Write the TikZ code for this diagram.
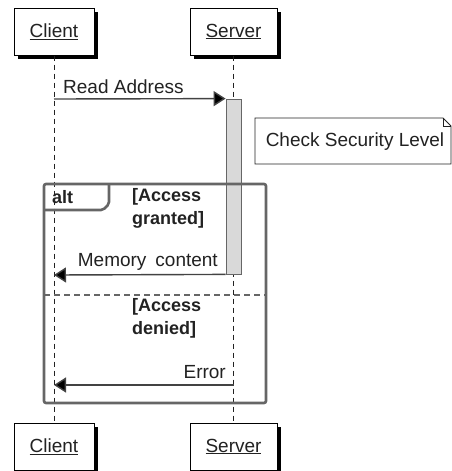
\documentclass[tikz,border=0pt]{standalone}
\usepackage{fontspec}
\setmainfont{Liberation Sans}
\usetikzlibrary{arrows.meta}
\definecolor{ink}{HTML}{222222}
\definecolor{framegray}{HTML}{666666}
\definecolor{barfill}{HTML}{D9D9D9}
\definecolor{shade}{HTML}{000000}
\begin{document}
\begin{tikzpicture}[x=1pt,y=-1pt,
  txt/.style={font=\fontsize{19}{22}\selectfont, text=ink, inner sep=0pt},
  btxt/.style={font=\fontsize{18}{23}\selectfont\bfseries, text=ink, inner sep=0pt, align=left},
  actor/.style={draw=black, line width=1pt, fill=white, minimum height=47pt, inner sep=0pt,
     font=\fontsize{19}{22}\selectfont, text=ink},
  lifeline/.style={draw=ink, line width=0.9pt, dash pattern=on 5pt off 4pt},
  msg/.style={draw=ink!85, line width=1.4pt, -{Triangle[length=12pt,width=15pt,fill=black]}},
  frame/.style={draw=framegray, line width=2.6pt, rounded corners=2pt},
]
\useasboundingbox (0,0) rectangle (452,471);
\fill[white] (0,0) rectangle (452,471);

% actor shadows (black rectangles offset behind the boxes)
\node[fill=shade, minimum width=80pt, minimum height=47pt, inner sep=0pt] (ctops) at (58,35.5) {};
\node[fill=shade, minimum width=87pt, minimum height=47pt, inner sep=0pt] (stops) at (237.5,35.5) {};
\node[fill=shade, minimum width=80pt, minimum height=47pt, inner sep=0pt] (cbots) at (58,450.5) {};
\node[fill=shade, minimum width=87pt, minimum height=47pt, inner sep=0pt] (sbots) at (237.5,450.5) {};

% actors
\node[actor, minimum width=80pt] (ctop) at (54,31.5) {\underline{Client}};
\node[actor, minimum width=87pt] (stop) at (233.5,31.5) {\underline{Server}};
\node[actor, minimum width=80pt] (cbot) at (54,446.5) {\underline{Client}};
\node[actor, minimum width=87pt] (sbot) at (233.5,446.5) {\underline{Server}};

% lifelines
\draw[lifeline] (ctop.south) -- (cbot.north);
\draw[lifeline] (stop.south) -- (sbot.north);

% activation bar
\node[draw=framegray, line width=0.8pt, fill=barfill, minimum width=15pt, minimum height=175pt, inner sep=0pt] (act) at (233.5,186.5) {};

% note
\draw[draw=ink, line width=0.9pt, fill=white] (255,118) -- (443,118) -- (451,126) -- (451,164) -- (255,164) -- cycle;
\draw[draw=ink, line width=0.7pt] (443,118) -- (443,126) -- (451,126);
\node[txt] (note) at (355,142) {Check Security Level};

% alt frame
\draw[frame] (44,184) rectangle (266,403);
\draw[frame] (44,210) -- (103,210) -- (109,204) -- (109,184);
\draw[draw=framegray, line width=2pt, dash pattern=on 6pt off 4pt] (44,295) -- (266,295);
\node[btxt, anchor=west] (alt) at (52,197) {alt};
\node[btxt, anchor=west] (g1) at (132,208.5) {[Access\\granted]};
\node[btxt, anchor=west] (g2) at (132,318) {[Access\\denied]};

% messages
\coordinate (c1) at (54,99);
\coordinate (c2) at (54,275);
\coordinate (c3) at (54,385);
\coordinate (s3) at (233.5,385);
\draw[msg] (c1) -- (act.north west);
\draw[msg] (act.south west) -- (c2);
\draw[msg] (s3) -- (c3);
\node[txt, anchor=west] (l1) at (63,87) {Read Address};
\node[txt, anchor=east] (l2) at (218,262) {Memory\hspace{9pt}content};
\node[txt, anchor=east] (l3) at (226,372) {Error};
\end{tikzpicture}
\end{document}
